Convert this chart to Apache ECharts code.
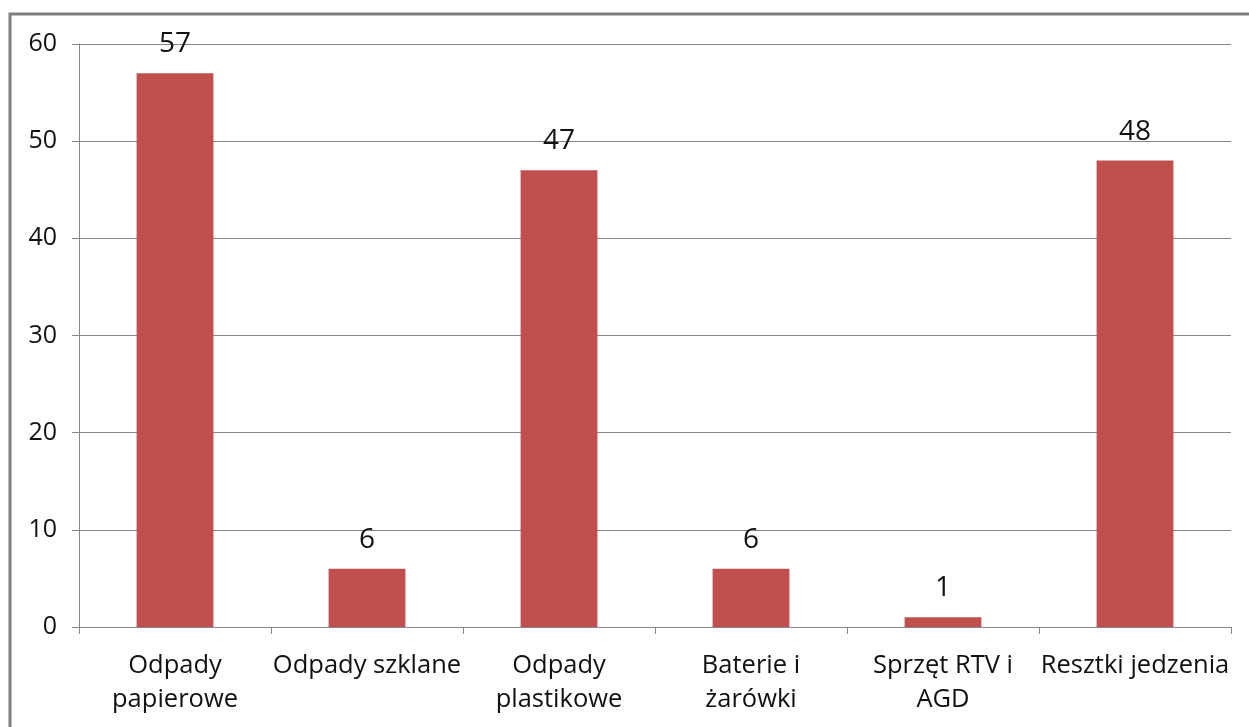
<!DOCTYPE html>
<html>
<head>
<meta charset="utf-8">
<script src="https://cdn.jsdelivr.net/npm/echarts@6/dist/echarts.min.js"></script>
<style>
html,body{margin:0;padding:0;background:#fff;}
#c{width:1249px;height:727px;}
</style>
</head>
<body>
<div id="c"></div>
<script>
const categories = ["Odpady\npapierowe", "Odpady szklane", "Odpady\nplastikowe", "Baterie i\nżarówki", "Sprzęt RTV i\nAGD", "Resztki jedzenia"];
const values = [57, 6, 47, 6, 1, 48];
const yTicks = [0, 10, 20, 30, 40, 50, 60];

const chart = echarts.init(document.getElementById('c'), null, {renderer: 'canvas'});
const font = '"Open Sans", "Noto Sans", sans-serif';
chart.setOption({
  animation: false,
  backgroundColor: '#ffffff',
  graphic: [{
    type: 'rect',
    shape: {x: 10, y: 14, width: 1260, height: 740},
    style: {fill: 'none', stroke: '#7f7f7f', lineWidth: 3},
    silent: true
  }],
  grid: {left: 79, right: 18, top: 44, bottom: 100, containLabel: false},
  xAxis: {
    type: 'category',
    data: categories,
    axisLine: {lineStyle: {color: '#868686', width: 1}},
    axisTick: {show: true, length: 7, lineStyle: {color: '#868686'}},
    axisLabel: {color: '#111', fontFamily: font, fontSize: 25.5, lineHeight: 34, margin: 22, interval: 0}
  },
  yAxis: {
    type: 'value',
    min: yTicks[0],
    max: yTicks[yTicks.length - 1],
    interval: 10,
    axisLine: {show: true, lineStyle: {color: '#868686', width: 1}},
    axisTick: {show: true, length: 7, lineStyle: {color: '#868686'}},
    splitLine: {lineStyle: {color: '#868686', width: 1}},
    axisLabel: {color: '#111', fontFamily: font, fontSize: 25, margin: 22}
  },
  series: [{
    type: 'bar',
    data: values,
    barWidth: '40%',
    itemStyle: {color: '#C0504D'},
    label: {show: true, position: 'top', distance: 15, color: '#111', fontFamily: font, fontSize: 28}
  }]
});
</script>
</body>
</html>
